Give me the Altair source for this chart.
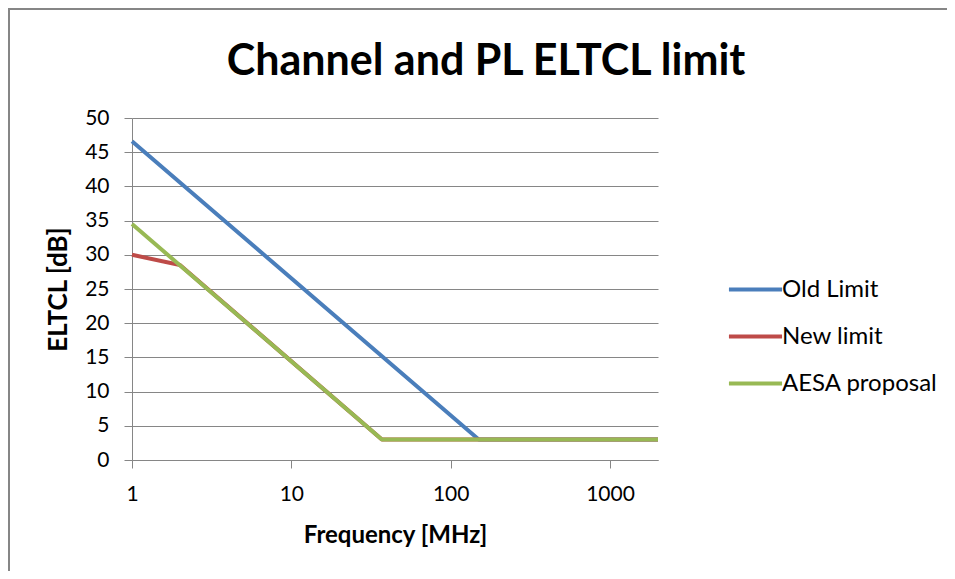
import altair as alt
import pandas as pd

# Series (frequency in MHz, ELTCL in dB)
old_freq = [1, 150, 2000]
old_val = [46.6, 3, 3]
new_freq = [1, 2, 37, 2000]
new_val = [30, 28.5, 3, 3]
aesa_freq = [1, 37, 2000]
aesa_val = [34.5, 3, 3]

series_names = ["Old Limit", "New limit", "AESA proposal"]
series_colors = ["#4A7EBB", "#BE4B48", "#98B954"]
x_ticks = [1, 10, 100, 1000]
y_ticks = [0, 5, 10, 15, 20, 25, 30, 35, 40, 45, 50]

rows = []
for name, fr, vals in zip(series_names, [old_freq, new_freq, aesa_freq], [old_val, new_val, aesa_val]):
    for i, (f, v) in enumerate(zip(fr, vals)):
        rows.append({"series": name, "freq": f, "eltcl": v, "order": i})
df = pd.DataFrame(rows)

FONT = "Lato"

lines = alt.Chart(df).mark_line(strokeWidth=4, strokeJoin="round").encode(
    x=alt.X("freq:Q",
            scale=alt.Scale(type="log", domain=[1, 2000], nice=False),
            axis=alt.Axis(values=x_ticks, format="d", grid=False, title="Frequency [MHz]",
                          tickSize=8, tickColor="#868686", domainColor="#868686",
                          labelFontSize=21, labelFont=FONT, labelColor="black",
                          labelPadding=15, labelFlush=False,
                          titleFontSize=24, titleFont=FONT, titleFontWeight="bold",
                          titleColor="black", titleY=75, titleBaseline="middle")),
    y=alt.Y("eltcl:Q",
            scale=alt.Scale(domain=[0, 50], nice=False),
            axis=alt.Axis(values=y_ticks, grid=True, gridColor="#868686", title="ELTCL [dB]",
                          tickSize=8, tickColor="#868686", domainColor="#868686",
                          labelFontSize=21, labelFont=FONT, labelColor="black",
                          labelPadding=15,
                          titleFontSize=26, titleFont=FONT, titleFontWeight="bold",
                          titleColor="black", titleX=-74, titleY=171, titleAngle=270,
                          titleBaseline="middle", titleAlign="center")),
    color=alt.Color("series:N",
                    scale=alt.Scale(domain=series_names, range=series_colors),
                    sort=series_names,
                    legend=alt.Legend(title=None, orient="none", legendX=598, legendY=146,
                                      symbolType="M-1.13,0L1.13,0", symbolSize=2209,
                                      symbolStrokeWidth=4, labelFontSize=24, labelFont=FONT,
                                      labelColor="black", labelOffset=1, rowPadding=9)),
    order="order:Q",
    detail="series:N",
)

frame = alt.Chart(pd.DataFrame({"k": [0]})).mark_rect(
    fill=None, stroke="#868686", strokeWidth=2
).encode(x=alt.value(-123), y=alt.value(-109), x2=alt.value(900), y2=alt.value(700))

chart = alt.layer(frame, lines).properties(
    width=526, height=342,
    padding={"left": 124, "top": 110, "right": 289, "bottom": 111},
    autosize=alt.AutoSizeParams(type="none"),
    title=alt.TitleParams("Channel and PL ELTCL limit", fontSize=43, font=FONT,
                          fontWeight="bold", color="black", anchor="middle",
                          baseline="alphabetic", offset=0, dy=110, dx=91),
).configure_view(stroke=None)

chart.save("out.html", embed_options={"renderer": "svg", "actions": False})
